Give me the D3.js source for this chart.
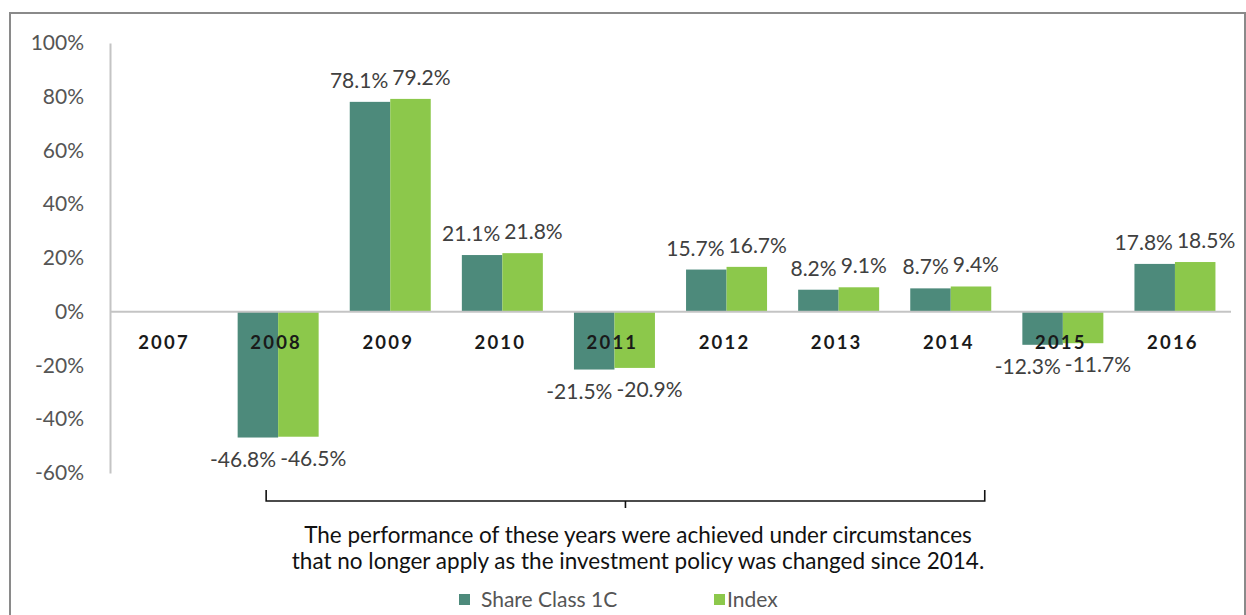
<!DOCTYPE html>
<html><head><meta charset="utf-8">
<script src="https://cdn.jsdelivr.net/npm/d3@7"></script>
<style>
body{margin:0;background:#fff;}
svg{display:block;font-family:Lato,"Open Sans",sans-serif;}
</style>
</head><body>
<svg id="chart" width="1246" height="615"></svg>
<script>
// ---- data ----
const years = ["2007","2008","2009","2010","2011","2012","2013","2014","2015","2016"];
const shareClassValues = [null, -46.8, 78.1, 21.1, -21.5, 15.7, 8.2, 8.7, -12.3, 17.8];
const indexValues      = [null, -46.5, 79.2, 21.8, -20.9, 16.7, 9.1, 9.4, -11.7, 18.5];
const yTickValues = [-60, -40, -20, 0, 20, 40, 60, 80, 100];
const seriesNames = ["Share Class 1C", "Index"];
const bracketFrom = "2008", bracketTo = "2014";
const noteLines = [
  "The performance of these years were achieved under circumstances",
  "that no longer apply as the investment policy was changed since 2014."
];

// ---- styles ----
const colors = ["#4D8A7B", "#8CC84B"];
const svg = d3.select("#chart");

// outer frame
svg.append("rect").attr("x", 10).attr("y", 13).attr("width", 1235).attr("height", 640)
  .attr("fill", "none").attr("stroke", "#8a8a8a").attr("stroke-width", 2);

const x = d3.scaleBand().domain(years).range([110, 1231]).paddingInner(0).paddingOuter(0);
const y = d3.scaleLinear().domain([-60, 100]).range([473, 43]);
const barW = 40.5;

// y axis
const yAxis = d3.axisLeft(y).tickValues(yTickValues).tickSize(0).tickPadding(26)
  .tickFormat(d => String(d) + "%");
const gy = svg.append("g").attr("transform", "translate(110,0)").call(yAxis);
gy.select(".domain").attr("stroke", "#c4c4c4").attr("stroke-width", 2);
gy.selectAll("text").attr("font-size", 21).attr("fill", "#555").attr("font-family", "Lato");

// bars
const series = [shareClassValues, indexValues];
series.forEach((vals, si) => {
  svg.append("g").selectAll("rect")
    .data(years.map((yr, i) => ({yr, v: vals[i]})).filter(d => d.v !== null))
    .join("rect")
    .attr("x", d => x(d.yr) + x.bandwidth() / 2 - barW + si * barW)
    .attr("width", barW)
    .attr("y", d => y(Math.max(0, d.v)))
    .attr("height", d => Math.abs(y(d.v) - y(0)))
    .attr("fill", colors[si]);
});

// zero line
svg.append("line").attr("x1", 110).attr("x2", 1231).attr("y1", y(0)).attr("y2", y(0))
  .attr("stroke", "#c4c4c4").attr("stroke-width", 2);

// category labels
svg.append("g").selectAll("text").data(years).join("text")
  .attr("x", d => x(d) + x.bandwidth() / 2 - 2)
  .attr("y", y(0) + 37)
  .attr("text-anchor", "middle")
  .attr("font-weight", "bold").attr("font-size", 18.5).attr("letter-spacing", 2.2)
  .attr("fill", "#1a1a1a")
  .text(d => d);

// value labels (dodged apart when a pair would overlap)
const fmt = d => d.toFixed(1) + "%";
const labelG = svg.append("g");
years.forEach((yr, i) => {
  const a = shareClassValues[i], b = indexValues[i];
  if (a === null) return;
  const cx = x(yr) + x.bandwidth() / 2;
  const ts = [a, b].map((v, si) => labelG.append("text")
    .attr("font-size", 21).attr("fill", "#404040").attr("text-anchor", "middle")
    .attr("y", v >= 0 ? y(v) - 14 : y(v) + 29)
    .text(fmt(v)));
  const w = ts.map(t => t.node().getComputedTextLength());
  let c0 = cx - barW / 2, c1 = cx + barW / 2;
  const need = (w[0] + w[1]) / 2 + 4;
  if (c1 - c0 < need) { const extra = (need - (c1 - c0)) / 2; c0 -= extra; c1 += extra; }
  ts[0].attr("x", c0); ts[1].attr("x", c1);
});

// bracket
const bx0 = x(bracketFrom) + x.bandwidth() / 2 - 12;
const bx1 = x(bracketTo) + x.bandwidth() / 2 + 34;
const bm = (bx0 + bx1) / 2;
const by = 501;
svg.append("path")
  .attr("d", `M${bx0},${by - 11}V${by}H${bx1}V${by - 11}M${bm},${by}V${by + 7}`)
  .attr("fill", "none").attr("stroke", "#111").attr("stroke-width", 1.6);

// note
svg.append("g").selectAll("text").data(noteLines).join("text")
  .attr("x", 638).attr("y", (d, i) => 543 + i * 26)
  .attr("text-anchor", "middle").attr("font-size", 22.5).attr("fill", "#111")
  .text(d => d);

// legend
const legendX = [459, 714];
seriesNames.forEach((n, i) => {
  svg.append("rect").attr("x", legendX[i]).attr("y", 594).attr("width", 11).attr("height", 11)
    .attr("fill", colors[i]);
  svg.append("text").attr("x", legendX[i] + (i === 0 ? 22 : 13)).attr("y", 607)
    .attr("font-size", 21).attr("fill", "#555").text(n);
});
</script>
</body></html>
